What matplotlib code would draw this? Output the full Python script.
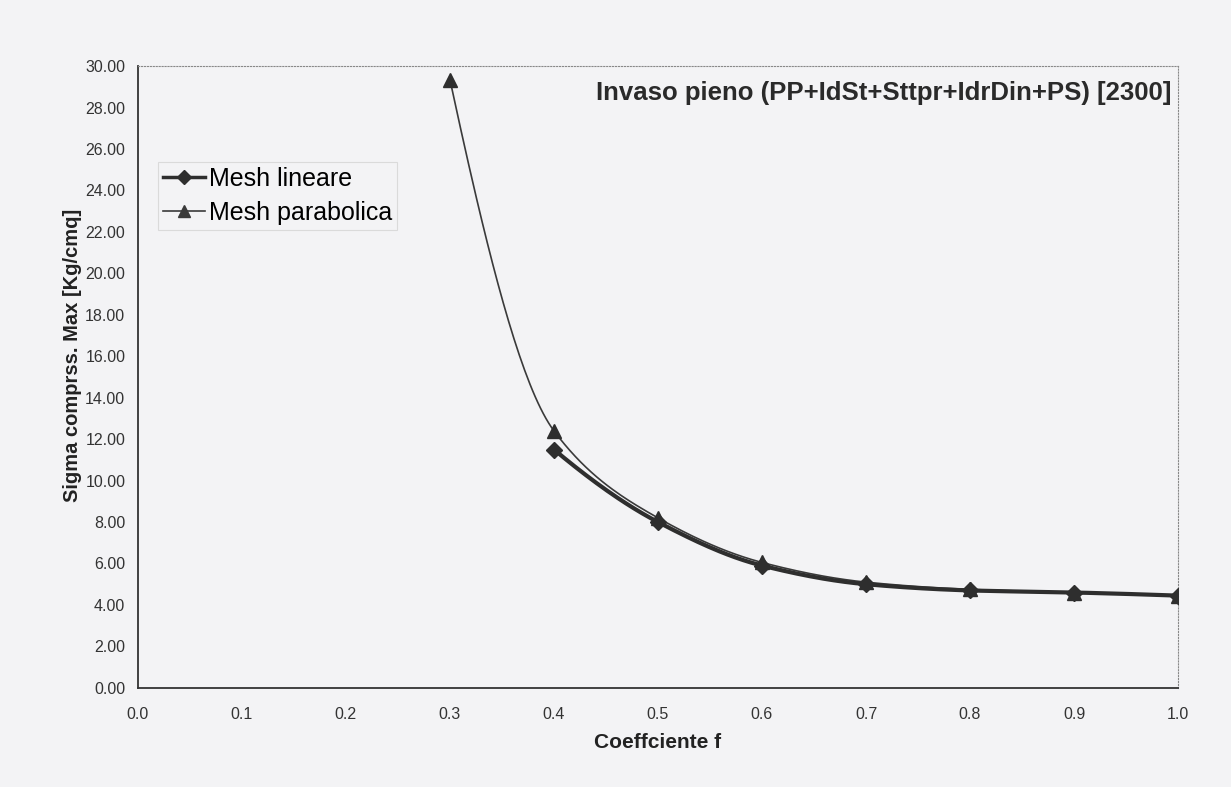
import numpy as np
import matplotlib.pyplot as plt

# ----------------------------
# Data
# ----------------------------
f_lin = [0.4, 0.5, 0.6, 0.7, 0.8, 0.9, 1.0]
sigma_lin = [11.5, 8.0, 5.9, 5.0, 4.7, 4.6, 4.45]

f_par = [0.3, 0.4, 0.5, 0.6, 0.7, 0.8, 0.9, 1.0]
sigma_par = [29.35, 12.4, 8.2, 6.05, 5.1, 4.75, 4.6, 4.45]

x_ticks = [0.0, 0.1, 0.2, 0.3, 0.4, 0.5, 0.6, 0.7, 0.8, 0.9, 1.0]
y_ticks = list(range(0, 32, 2))

title = "Invaso pieno (PP+IdSt+Sttpr+IdrDin+PS) [2300]"


# ----------------------------
# Smoothed line drawn through the points (monotone cubic, no overshoot)
# ----------------------------
def smooth(x, y, n=40):
    x = np.asarray(x, float)
    y = np.asarray(y, float)
    h = np.diff(x)
    d = np.diff(y) / h
    m = np.zeros_like(y)
    for i in range(1, len(y) - 1):
        if d[i - 1] * d[i] > 0:
            w1 = 2 * h[i] + h[i - 1]
            w2 = h[i] + 2 * h[i - 1]
            m[i] = (w1 + w2) / (w1 / d[i - 1] + w2 / d[i])
    m[0] = ((2 * h[0] + h[1]) * d[0] - h[0] * d[1]) / (h[0] + h[1])
    m[-1] = ((2 * h[-1] + h[-2]) * d[-1] - h[-1] * d[-2]) / (h[-1] + h[-2])
    xs, ys = [], []
    t = np.linspace(0, 1, n)
    for i in range(len(h)):
        h00 = 2 * t ** 3 - 3 * t ** 2 + 1
        h10 = t ** 3 - 2 * t ** 2 + t
        h01 = -2 * t ** 3 + 3 * t ** 2
        h11 = t ** 3 - t ** 2
        xs.append(x[i] + t * h[i])
        ys.append(h00 * y[i] + h10 * h[i] * m[i] + h01 * y[i + 1] + h11 * h[i] * m[i + 1])
    return np.concatenate(xs), np.concatenate(ys)


plt.rcParams['font.family'] = ['Liberation Sans', 'DejaVu Sans']
bg = '#f3f3f5'

fig = plt.figure(figsize=(12.31, 7.87), dpi=100, facecolor=bg)
ax = fig.add_axes([0.112, 0.126, 0.845, 0.790])
ax.set_facecolor(bg)

sx, sy = smooth(f_lin, sigma_lin)
ax.plot(sx, sy, color='#2e2e2e', linewidth=3.0, zorder=3)
ax.plot(f_lin, sigma_lin, linestyle='none', marker='D', markersize=8,
        color='#2e2e2e', zorder=4)

px, py = smooth(f_par, sigma_par)
ax.plot(px, py, color='#3a3a3a', linewidth=1.2, zorder=2)
ax.plot(f_par, sigma_par, linestyle='none', marker='^', markersize=10,
        color='#2e2e2e', zorder=4)

# legend proxies
ax.plot([], [], color='#2e2e2e', linewidth=2.5, marker='D', markersize=7,
        label="Mesh lineare")
ax.plot([], [], color='#3a3a3a', linewidth=1.2, marker='^', markersize=9,
        label="Mesh parabolica")
leg = ax.legend(loc='upper left', bbox_to_anchor=(0.019, 0.846), fontsize=18,
                frameon=True, fancybox=False, handlelength=1.7,
                handletextpad=0.15, borderpad=0.2, labelspacing=0.4,
                borderaxespad=0)
leg.get_frame().set_edgecolor('#d4d4d4')
leg.get_frame().set_facecolor(bg)
leg.get_frame().set_linewidth(0.8)

ax.text(0.994, 0.976, title, transform=ax.transAxes, ha='right', va='top',
        fontsize=18.5, fontweight='bold', color='#2a2a2a')

ax.set_xlim(0, 1.0)
ax.set_ylim(0, 30)
ax.set_xticks(x_ticks)
ax.set_xticklabels([f"{v:.1f}" for v in x_ticks])
ax.set_yticks(y_ticks)
ax.set_yticklabels([f"{v:.2f}" for v in y_ticks])
ax.tick_params(axis='both', length=0, labelsize=11.5, colors='#333333')
ax.tick_params(axis='x', pad=14)
ax.tick_params(axis='y', pad=9)

ax.set_xlabel("Coeffciente f", fontsize=15, fontweight='bold',
              color='#222222', labelpad=8)
ax.set_ylabel("Sigma comprss. Max [Kg/cmq]", fontsize=14.5, fontweight='bold',
              color='#222222')
ax.yaxis.set_label_coords(-0.0535, 0.535)

ax.spines['left'].set_color('#333333')
ax.spines['bottom'].set_color('#333333')
ax.spines['left'].set_linewidth(1.3)
ax.spines['bottom'].set_linewidth(1.3)
for s in ('top', 'right'):
    ax.spines[s].set_color('#888888')
    ax.spines[s].set_linewidth(0.8)
    ax.spines[s].set_linestyle(':')

fig.savefig("out.png", dpi=100, facecolor=bg)
